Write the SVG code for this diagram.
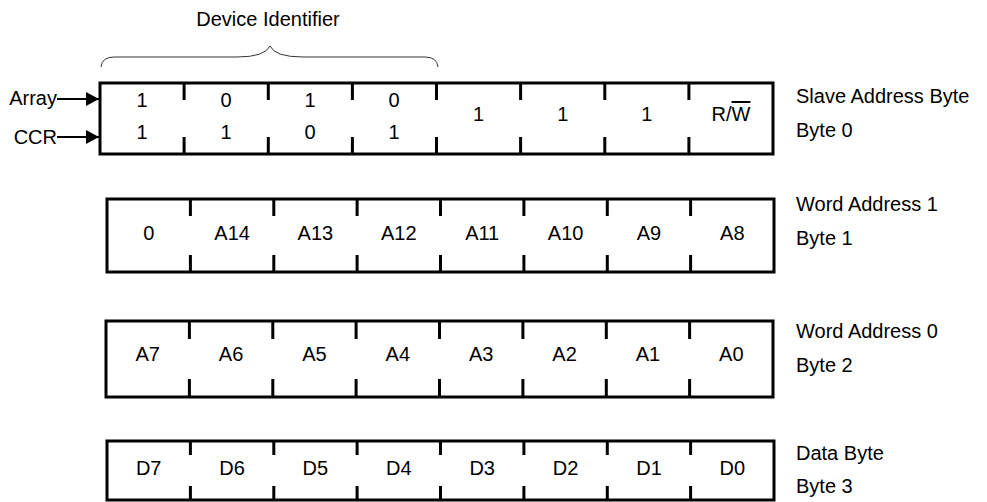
<svg xmlns="http://www.w3.org/2000/svg" width="987" height="502" viewBox="0 0 987 502">
<defs>
<style>
text{font-family:"Liberation Sans",Arial,Helvetica,sans-serif;font-size:20px;fill:#000}
.c{text-anchor:middle}
.box{fill:#fff;stroke:#000;stroke-width:3}
.tick{stroke:#000;stroke-width:3;fill:none}
.brace{fill:none;stroke:#333;stroke-width:1}
.arr{stroke:#000;stroke-width:2;fill:none}
</style>
<marker id="ah" markerWidth="13" markerHeight="14" refX="13" refY="7" orient="auto" markerUnits="userSpaceOnUse">
<path d="M0,0 L13,7 L0,14 Z" fill="#000"/>
</marker>
</defs>
<rect width="987" height="502" fill="#fff"/>

<g id="device-identifier">
<path class="brace" d="M101,67 Q102,57 114,57 L237,57 Q265,57 270,46 Q275,57 303,57 L425,57 Q437,57 438,67"/>
<text class="c" x="268" y="26">Device Identifier</text>
</g>

<g id="byte0">
<rect class="box" x="100" y="83" width="673" height="71"/>
<path class="tick" d="M184.1,83v17M268.3,83v17M352.4,83v17M436.5,83v17M520.6,83v17M604.8,83v17M688.9,83v17M184.1,154v-17M268.3,154v-17M352.4,154v-17M436.5,154v-17M520.6,154v-17M604.8,154v-17M688.9,154v-17"/>
<text class="c" x="142" y="107">1</text>
<text class="c" x="226" y="107">0</text>
<text class="c" x="310" y="107">1</text>
<text class="c" x="394" y="107">0</text>
<text class="c" x="142" y="139">1</text>
<text class="c" x="226" y="139">1</text>
<text class="c" x="310" y="139">0</text>
<text class="c" x="394" y="139">1</text>
<text class="c" x="478.6" y="121">1</text>
<text class="c" x="562.7" y="121">1</text>
<text class="c" x="646.8" y="121">1</text>
<text class="c" x="731" y="121">R/<tspan text-decoration="overline">W</tspan></text>
<text x="796" y="103">Slave Address Byte</text>
<text x="796" y="137">Byte 0</text>
</g>

<g id="byte1">
<rect class="box" x="107" y="199" width="667" height="73"/>
<path class="tick" d="M190.4,199v17M273.8,199v17M357.1,199v17M440.5,199v17M523.9,199v17M607.3,199v17M690.6,199v17M190.4,272v-17M273.8,272v-17M357.1,272v-17M440.5,272v-17M523.9,272v-17M607.3,272v-17M690.6,272v-17"/>
<text class="c" x="148.7" y="240">0</text>
<text class="c" x="232.1" y="240">A14</text>
<text class="c" x="315.4" y="240">A13</text>
<text class="c" x="398.8" y="240">A12</text>
<text class="c" x="482.2" y="240">A11</text>
<text class="c" x="565.6" y="240">A10</text>
<text class="c" x="649" y="240">A9</text>
<text class="c" x="732.3" y="240">A8</text>
<text x="796" y="211">Word Address 1</text>
<text x="796" y="245">Byte 1</text>
</g>

<g id="byte2">
<rect class="box" x="106" y="321" width="667" height="76"/>
<path class="tick" d="M189.4,321v18M272.8,321v18M356.1,321v18M439.5,321v18M522.9,321v18M606.3,321v18M689.6,321v18M189.4,397v-18M272.8,397v-18M356.1,397v-18M439.5,397v-18M522.9,397v-18M606.3,397v-18M689.6,397v-18"/>
<text class="c" x="147.7" y="361">A7</text>
<text class="c" x="231.1" y="361">A6</text>
<text class="c" x="314.4" y="361">A5</text>
<text class="c" x="397.8" y="361">A4</text>
<text class="c" x="481.2" y="361">A3</text>
<text class="c" x="564.6" y="361">A2</text>
<text class="c" x="648" y="361">A1</text>
<text class="c" x="731.3" y="361">A0</text>
<text x="796" y="338">Word Address 0</text>
<text x="796" y="372">Byte 2</text>
</g>

<g id="byte3">
<rect class="box" x="107" y="441" width="667" height="59"/>
<path class="tick" d="M190.4,441v14M273.8,441v14M357.1,441v14M440.5,441v14M523.9,441v14M607.3,441v14M690.6,441v14M190.4,500v-14M273.8,500v-14M357.1,500v-14M440.5,500v-14M523.9,500v-14M607.3,500v-14M690.6,500v-14"/>
<text class="c" x="148.7" y="475">D7</text>
<text class="c" x="232.1" y="475">D6</text>
<text class="c" x="315.4" y="475">D5</text>
<text class="c" x="398.8" y="475">D4</text>
<text class="c" x="482.2" y="475">D3</text>
<text class="c" x="565.6" y="475">D2</text>
<text class="c" x="649" y="475">D1</text>
<text class="c" x="732.3" y="475">D0</text>
<text x="796" y="460">Data Byte</text>
<text x="796" y="493">Byte 3</text>
</g>

<g id="array-label"><text x="57" y="105" text-anchor="end">Array</text></g>
<g id="ccr-label"><text x="57" y="144" text-anchor="end">CCR</text></g>

<g id="connectors">
<line class="arr" x1="57" y1="99" x2="99" y2="99" marker-end="url(#ah)"/>
<line class="arr" x1="57" y1="137" x2="99" y2="137" marker-end="url(#ah)"/>
</g>
</svg>
